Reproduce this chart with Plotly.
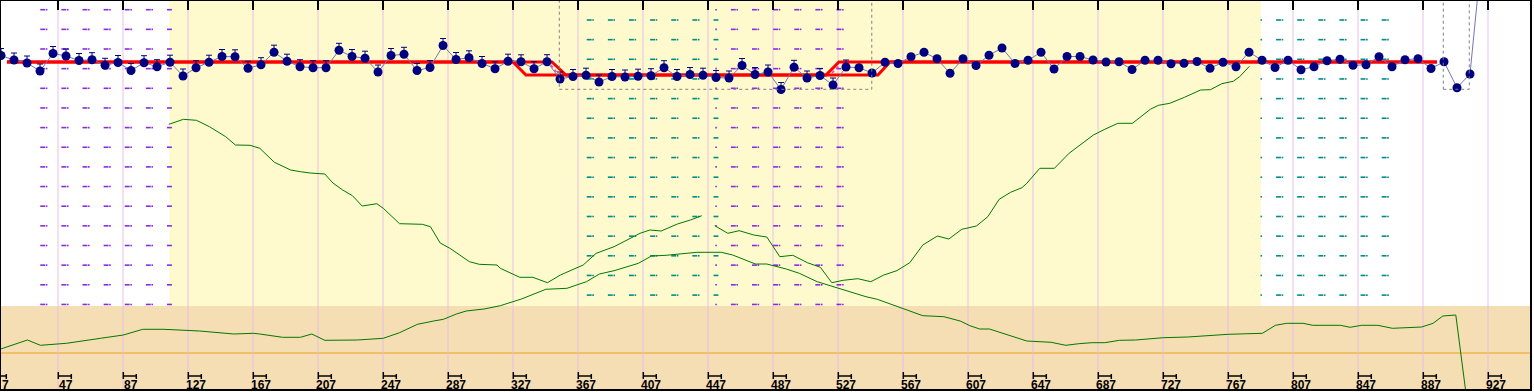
import numpy as np
import plotly.graph_objects as go

# ---------------- axis / labels ----------------
tick_labels = [7, 47, 87, 127, 167, 207, 247, 287, 327, 367, 407, 447, 487,
               527, 567, 607, 647, 687, 727, 767, 807, 847, 887, 927]
x_range = [11.12, 953.28]
y_range = [0, 390]

# ---------------- dot series (weekly points) ----------------
dot_x0 = 11.75
dot_step = 8
dot_values = [334.5, 330, 327, 319, 336.5, 334, 329.5, 330.3, 324.7, 327.5,
              319.5, 327.3, 323.3, 327.8, 314, 322.3, 327.8, 333.5, 333.2, 321.7,
              325.3, 337.8, 328.8, 323.3, 322.3, 322.3, 339.7, 333.5, 331.8, 318,
              334.5, 335.7, 319.5, 322.5, 344.5, 330.5, 332.2, 326.5, 321.2, 328.8,
              328.2, 321.3, 328.3, 311, 313.5, 314.8, 308, 313.5, 313, 313.8,
              314.3, 322.3, 313.5, 315.5, 314.8, 312.5, 312, 324.5, 315.5, 318,
              300.5, 322.7, 312, 314.5, 305, 323, 322.3, 317, 327.7, 326.5,
              333.3, 337.7, 331.2, 316.7, 331.3, 324.5, 334.7, 342, 326.5, 329.8,
              337.7, 321, 333.5, 333.5, 330, 328, 328.2, 320.5, 329.7, 329.7,
              326.2, 326.7, 328.5, 321.7, 327.8, 323.3, 337.8, 329.8, 322.5, 329.7,
              320.3, 323.3, 329.3, 330.8, 324.7, 325.2, 333.3, 323.2, 330.2, 331.3,
              321.5, 328.2, 302.3, 316, 448]
cap_count = 66          # points carrying the upper whisker
cap_size = 7

# ---------------- red level lines ----------------
red_a_x = [15.4, 326.8, 334.8, 519.4, 527.4, 895.4]
red_b_x = [15.4, 350.8, 359.4, 551.4, 558.8, 895.4]
red_y = [328, 328, 315, 315, 328, 328]
pink_seg1_x, pink_seg1_y = [350.2, 354.5], [325, 316]
pink_seg2_x, pink_seg2_y = [523.1, 528.0], [317, 325]

# ---------------- green lines ----------------
greenA_x = [115, 124, 132, 140, 150, 156, 165, 171, 180, 190, 196, 202, 211, 216,
            222, 228, 234, 243, 247, 257, 271, 276, 282, 288, 300, 306, 317, 319,
            331, 339, 348, 356, 370, 378, 389, 397, 405, 411, 418, 428, 436, 443]
greenA_y = [265.7, 270.7, 269.7, 263.3, 253.3, 245, 244.7, 241.7, 227.7, 220,
            218.3, 217, 216, 207, 200, 194.3, 184, 186.3, 181.7, 166.3, 165.7,
            163.3, 147, 141.7, 128.3, 125.7, 125, 121.7, 112.7, 112.7, 107.3, 115,
            125, 136.7, 143.3, 150, 156.7, 160, 159, 166, 170, 174.3]

greenC_x = [451, 459, 466, 475, 483, 491, 499, 508, 516, 523, 530, 539, 547, 555,
            563, 571, 579, 588, 595, 603, 612, 619, 626, 633, 640, 643, 651, 660,
            669, 676, 684, 691, 699, 708, 719, 724, 731, 740, 750, 756, 763, 770,
            774, 780]
greenC_y = [164.3, 156.7, 159.3, 155, 153, 133.3, 134.7, 127.3, 122.7, 107.3,
            109.7, 111.3, 108.3, 115, 119.3, 127.3, 145, 154, 151, 160.7, 164,
            173.3, 190.7, 197.7, 202.3, 206.7, 221.7, 221.7, 236.7, 245.3, 255,
            260.7, 266.7, 266.7, 280.7, 284.7, 286.7, 292.7, 300, 300.3, 306.3,
            308.7, 313.3, 323.7]

greenB_x = [11, 28, 36, 52, 73, 87, 99, 112, 134, 142, 155, 167, 171, 185, 196,
            203, 211, 231, 247, 257, 268, 278, 284, 292, 298, 309, 319, 332, 347,
            360, 372, 380, 389, 404, 412, 421, 434, 440, 455, 462, 476, 483, 495,
            503, 514, 524, 534, 544, 551, 567, 579, 592, 602, 608, 614, 620, 626,
            643, 658, 667, 675, 683, 691, 700, 710, 727, 742, 752, 767, 788, 796,
            803, 813, 819, 836, 842, 849, 859, 868, 886, 893, 899, 907, 915]
greenB_y = [40.7, 50, 44.7, 46.7, 51.7, 55, 60.7, 60.7, 59, 57.7, 56, 56.7, 56,
            52.7, 52.7, 56, 49.7, 50, 51.7, 57.3, 65.7, 69, 70.7, 76, 79, 81, 84.3,
            91, 100.7, 101.7, 108.3, 116, 119.3, 126.7, 134, 134.7, 136.7, 137.7,
            137.7, 135, 126, 126, 121, 116.7, 108.3, 103.3, 99, 93.3, 90.7, 81,
            74.3, 73.3, 69, 64.3, 61, 61, 57.7, 49, 47.7, 44.7, 46.3, 47.3, 47.3,
            49.7, 50, 52.3, 53, 54, 55.7, 56.7, 64.7, 66.7, 66.7, 64.7, 64.7, 62.7,
            64.7, 64.7, 61.7, 63, 66.7, 74, 75, -25]

orange_level = 37
yellow_span = (115.4, 787.1)
tan_top = 84
box1 = (355.3, 547.6, 300.7)
box2 = (899.3, 915.3, 300.7)

# dotted hatch regions: (color, first column, n columns, clip min, clip max, first row, n rows)
hatch_regions = [
    ("#8A2BE2", 36.8, 7, 30.0, 115.5, 380.3, 16),
    ("#008B8B", 373.1, 7, 370.0, 451.8, 370.0, 15),
    ("#8A2BE2", 448.8, 7, 450.5, 530.5, 380.3, 16),
    ("#008B8B", 784.3, 7, 787.1, 866.5, 370.0, 15),
]
hatch_col_step = 13
hatch_row_step = 19.65
hatch_dot_offset = 3

# ---------------- figure ----------------
fig = go.Figure()

# hatch dots
for color, c0, nc, umin, umax, r0, nr in hatch_regions:
    cols = c0 + hatch_col_step * np.arange(nc)
    rows = r0 - hatch_row_step * np.arange(nr)
    dx, dy, px, py = [], [], [], []
    for c in cols:
        for r in rows:
            if umin <= c <= umax:
                dx.append(c + 0.6); dy.append(r)
            if umin <= c + hatch_dot_offset <= umax:
                px.append(c + hatch_dot_offset); py.append(r)
    fig.add_trace(go.Scatter(x=dx, y=dy, mode="markers", hoverinfo="skip",
                             marker=dict(symbol="line-ew", size=3.5,
                                         line=dict(color=color, width=1.6))))
    fig.add_trace(go.Scatter(x=px, y=py, mode="markers", hoverinfo="skip",
                             marker=dict(symbol="square", size=1.6, color=color,
                                         line=dict(width=0))))

# green lines
for gx, gy in [(greenA_x, greenA_y), (greenC_x, greenC_y), (greenB_x, greenB_y)]:
    fig.add_trace(go.Scatter(x=gx, y=gy, mode="lines", hoverinfo="skip",
                             line=dict(color="#007800", width=1)))

# red levels
for rx in (red_a_x, red_b_x):
    fig.add_trace(go.Scatter(x=rx, y=red_y, mode="lines", hoverinfo="skip",
                             line=dict(color="#FF0000", width=3)))
for sx, sy in [(pink_seg1_x, pink_seg1_y), (pink_seg2_x, pink_seg2_y)]:
    fig.add_trace(go.Scatter(x=sx, y=sy, mode="lines", hoverinfo="skip",
                             line=dict(color="#FF30C0", width=1.5, dash="dot")))

# dot series
n = len(dot_values)
dot_x = dot_x0 + dot_step * np.arange(n)
caps = [cap_size if i < cap_count else None for i in range(n)]
fig.add_trace(go.Scatter(x=dot_x, y=dot_values, mode="lines", hoverinfo="skip",
                         line=dict(color="#7474B4", width=1)))
fig.add_trace(go.Scatter(x=dot_x, y=dot_values, mode="markers", hoverinfo="skip",
                         marker=dict(size=9, color="#000080", line=dict(width=0)),
                         error_y=dict(type="data", symmetric=False, array=caps,
                                      arrayminus=[0] * n, color="#000080",
                                      thickness=1, width=3)))

# bottom tick brackets
bx, by = [], []
for t in tick_labels:
    bx += [t, t, None, t, t + 8, None, t + 8, t + 8, None]
    by += [18, 11, None, 14, 14, None, 16, 11, None]
fig.add_trace(go.Scatter(x=bx, y=by, mode="lines", hoverinfo="skip",
                         line=dict(color="black", width=1.5)))

annotations = []
for t in tick_labels:
    xc = t + 4.5
    if xc - 5 < x_range[0]:
        annotations.append(dict(x=x_range[0], y=5, xanchor="left", yanchor="middle",
                                text=f"<b>{t}</b>", showarrow=False,
                                font=dict(family="Liberation Sans", size=12, color="black")))
    else:
        annotations.append(dict(x=xc, y=5, xanchor="center", yanchor="middle",
                                text=f"<b>{t}</b>", showarrow=False,
                                font=dict(family="Liberation Sans", size=12, color="black")))

shapes = [
    dict(type="rect", xref="x", yref="y", x0=yellow_span[0], x1=yellow_span[1],
         y0=tan_top, y1=y_range[1], fillcolor="#FFFACD", line=dict(width=0), layer="below"),
    dict(type="rect", xref="paper", yref="y", x0=0, x1=1, y0=y_range[0], y1=tan_top,
         fillcolor="#F5DEB3", line=dict(width=0), layer="below"),
    dict(type="line", xref="paper", yref="y", x0=0, x1=1, y0=orange_level, y1=orange_level,
         line=dict(color="#F0A020", width=1), layer="below"),
    dict(type="rect", xref="x", yref="y", x0=box1[0], x1=box1[1], y0=box1[2], y1=y_range[1],
         line=dict(color="#808080", width=1, dash="dot"), layer="above"),
    dict(type="rect", xref="x", yref="y", x0=box2[0], x1=box2[1], y0=box2[2], y1=y_range[1],
         line=dict(color="#808080", width=1, dash="dot"), layer="above"),
    dict(type="rect", xref="paper", yref="paper", x0=0, x1=1, y0=0, y1=1,
         line=dict(color="black", width=2), layer="above"),
]

fig.update_layout(
    width=1534, height=392,
    margin=dict(l=0, r=3, t=0, b=2, pad=0),
    paper_bgcolor="white", plot_bgcolor="white",
    showlegend=False,
    shapes=shapes, annotations=annotations,
    xaxis=dict(range=x_range, tickvals=tick_labels, side="top", ticks="inside",
               ticklen=10, tickwidth=2, tickcolor="black", showticklabels=False,
               showgrid=True, gridcolor="rgba(230,185,230,0.45)", gridwidth=2,
               zeroline=False, showline=False, fixedrange=True),
    yaxis=dict(range=y_range, showgrid=False, zeroline=False, showticklabels=False,
               ticks="", showline=False, fixedrange=True),
)

fig.write_html("out.html", config={"displayModeBar": False},
               post_script="document.body.style.margin='0';")
